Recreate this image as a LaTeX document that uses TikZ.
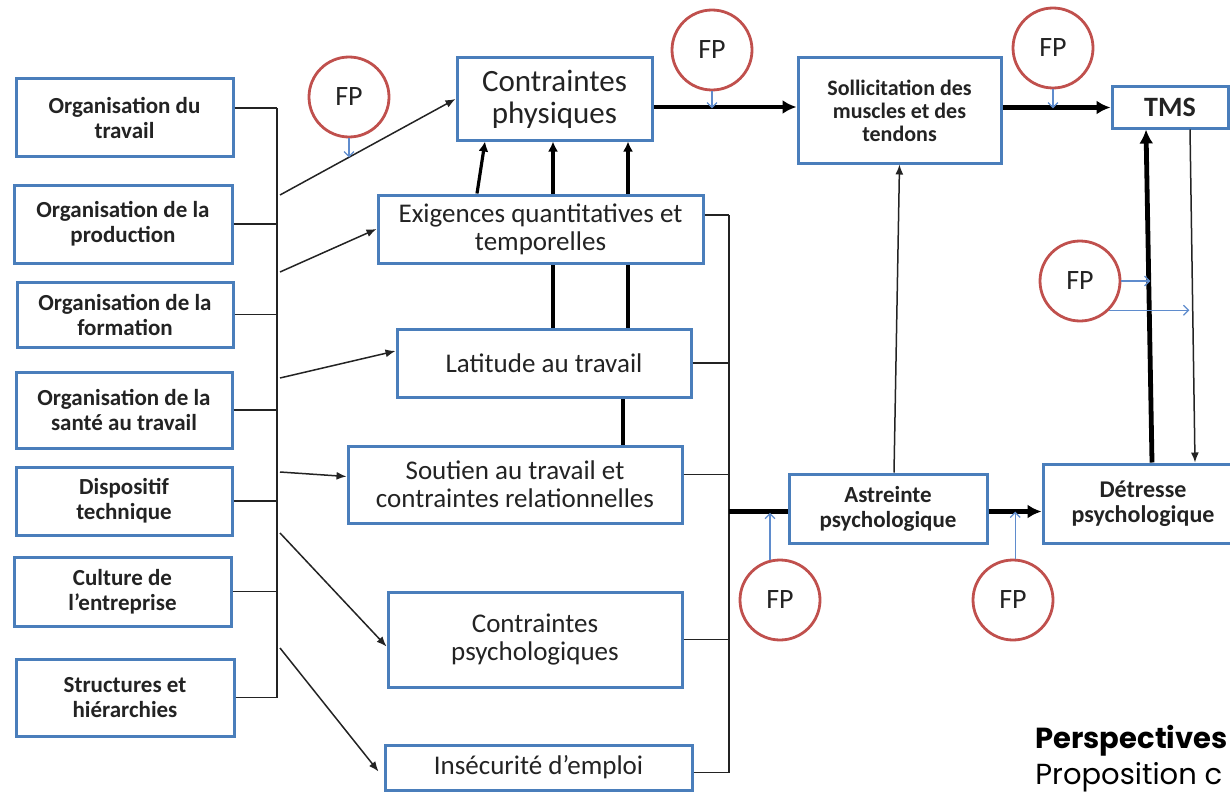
\documentclass[tikz,border=0pt]{standalone}
\usepackage{fontspec}
\setmainfont{Carlito}
\newfontfamily\pfont{Poppins}
\usetikzlibrary{arrows.meta,calc}
\definecolor{boxblue}{RGB}{74,126,187}
\definecolor{fpred}{RGB}{192,80,77}
\definecolor{fpblue}{RGB}{95,140,205}
\definecolor{ink}{RGB}{35,35,35}
\begin{document}
\begin{tikzpicture}[x=0.5pt,y=-0.5pt,
  box/.style={draw=boxblue, line width=1.5pt, fill=white, inner sep=0pt, align=center, text=ink},
  sz/.style 2 args={minimum width=#1pt, minimum height=#2pt},
  leftbox/.style={box, font=\fontsize{11.5}{12.5}\selectfont\bfseries},
  midbox/.style={box, font=\fontsize{13.5}{14}\selectfont},
  fp/.style={circle, draw=fpred, line width=1.4pt, minimum size=40pt, inner sep=0pt, font=\fontsize{14}{14}\selectfont, text=ink},
  conn/.style={draw=ink, line width=0.75pt},
  arr/.style={conn, -{Latex[length=5pt,width=4pt]}},
  thickln/.style={draw=black, line width=2.4pt},
  thickarr/.style={thickln, -{Latex[length=7pt,width=7pt]}},
  vthick/.style={draw=black, line width=1.6pt},
  vthickarr/.style={vthick, -{Latex[length=5pt,width=5pt]}},
  fparr/.style={draw=fpblue, line width=0.6pt, -{Straight Barb[length=2.5pt,width=5pt]}},
]
\useasboundingbox (0,0) rectangle (1230,792);
\clip (0,0) rectangle (1230,792);

% left column
\node[leftbox, sz={108.5}{38.5}] (o1) at (124.5,117.5) {Organisation du\\travail};
\node[leftbox, sz={109}{39}]     (o2) at (123,224)     {Organisation de la\\production};
\node[leftbox, sz={108}{32.5}]   (o3) at (125,314.5)   {Organisation de la\\formation};
\node[leftbox, sz={108}{38}]     (o4) at (124,410)     {Organisation de la\\santé au travail};
\node[leftbox, sz={108}{34}]     (o5) at (124,501)     {Dispositif\\technique};
\node[leftbox, sz={108.5}{34.5}] (o6) at (122.5,591.5) {Culture de\\l’entreprise};
\node[leftbox, sz={109}{38.5}]   (o7) at (125,697.5)   {Structures et\\hiérarchies};

% middle column
\node[box, font=\fontsize{15.5}{16}\selectfont, sz={97.5}{41}] (cp) at (554.5,99) {Contraintes\\physiques};
\node[midbox, sz={162.5}{34}]  (ex)  at (540.5,229)   {Exigences quantitatives et\\temporelles};
\node[midbox, sz={147}{34}]    (lat) at (544,363)     {Latitude au travail};
\node[midbox, sz={167}{38.5}]  (sou) at (515,484.5)   {Soutien au travail et\\contraintes relationnelles};
\node[midbox, sz={147}{47.5}]  (cps) at (535,639.5)   {Contraintes\\psychologiques};
\node[midbox, sz={153.5}{22.5}] (ins) at (538.5,767.5) {Insécurité d’emploi};

% right part
\node[box, font=\fontsize{11}{11.5}\selectfont\bfseries, sz={101.5}{52.5}] (sol) at (899.5,110.5) {Sollicitation des\\muscles et des\\tendons};
\node[box, font=\fontsize{14}{14}\selectfont\bfseries, sz={58}{20.5}] (tms) at (1170,107.5) {TMS};
\node[box, font=\fontsize{11.5}{12.5}\selectfont\bfseries, sz={99}{34.5}] (ast) at (888,508.5) {Astreinte\\psychologique};
\node[box, font=\fontsize{12}{12.5}\selectfont\bfseries, sz={100}{39.5}] (det) at (1143,503.5) {Détresse\\psychologique};

% FP circles
\node[fp] (fp1) at (349,97) {FP};
\node[fp] (fp2) at (712,50) {FP};
\node[fp] (fp3) at (1053,48) {FP};
\node[fp] (fp4) at (780,600) {FP};
\node[fp] (fp5) at (1013,600) {FP};
\node[fp] (fp6) at (1080,281) {FP};

% left bus
\coordinate (lb1) at (277,108);
\coordinate (lb7) at (277,698);
\draw[conn] (lb1) -- (lb7);
\draw[conn] (o1.east |- lb1) -- (lb1);
\draw[conn] (o2.east) -- (o2.east -| lb1);
\draw[conn] (o3.east) -- (o3.east -| lb1);
\draw[conn] (o4.east) -- (o4.east -| lb1);
\draw[conn] (o5.east) -- (o5.east -| lb1);
\draw[conn] (o6.east) -- (o6.east -| lb1);
\draw[conn] (o7.east) -- (o7.east -| lb1);

% arrows from the left bus
\coordinate (s1) at (280,195);
\coordinate (s2) at (280,272);
\coordinate (s3) at (280,378);
\coordinate (s4) at (280,472);
\coordinate (s5) at (280,533);
\coordinate (s6) at (280,648);
\draw[arr] (s1) -- (cp.west);
\draw[arr] (s2) -- (ex.west);
\draw[arr] (s3) -- ($(lat.west)+(0,-12)$);
\draw[arr] (s4) -- ($(sou.west)+(0,-8)$);
\draw[arr] (s5) -- ($(cps.west)+(0,7)$);
\draw[arr] (s6) -- ($(ins.west)+(-5,4)$);

% exigences -> contraintes physiques
\draw[vthickarr] ($(ex.north)+(-63.5,0)$) -- ($(cp.south)+(-69.5,0)$);
\draw[vthickarr] ($(ex.north)+(12.5,0)$) -- ($(cp.south)+(-1.5,0)$);
\draw[vthickarr] ($(ex.north)+(87.5,0)$) -- ($(cp.south)+(73.5,0)$);
\draw[vthick] ($(lat.north)+(9,0)$) -- ($(ex.south)+(12.5,0)$);
\draw[vthick] ($(lat.north)+(84,0)$) -- ($(ex.south)+(87.5,0)$);
\draw[vthick] ($(sou.north)+(108,0)$) -- ($(lat.south)+(79,0)$);

% right bus
\coordinate (rb1) at (729,215);
\coordinate (rb2) at (729,773);
\draw[conn] (rb1) -- (rb2);
\draw[conn] ($(ex.east)+(0,-14)$) -- (rb1);
\draw[conn] (lat.east) -- (lat.east -| rb1);
\draw[conn] ($(sou.east)+(0,-10)$) -- ($(sou.east -| rb1)+(0,-10)$);
\draw[conn] (cps.east) -- (cps.east -| rb1);
\draw[conn] ($(ins.east)+(0,5)$) -- ($(ins.east -| rb1)+(0,5)$);

% main chain
\draw[thickln] ($(ast.west -| rb1)+(0,3)$) -- ($(ast.west)+(0,3)$);
\draw[thickarr] ($(ast.east)+(0,3)$) -- ($(ast.east -| det.west)+(0,3)$);
\draw[arr] ($(ast.north)+(6,0)$) -- (sol.south);
\draw[thickarr] ($(cp.east)+(0,8)$) -- ($(cp.east -| sol.west)+(0,8)$);
\draw[thickarr] (sol.east |- tms.west) -- (tms.west);
\draw[thickarr] ($(det.north)+(9,0)$) -- ($(tms.south)+(-24,0)$);
\draw[arr] ($(tms.south)+(20,0)$) -- ($(det.north)+(52,0)$);

% FP arrows
\draw[fparr] (fp1.south) -- ++(0,19);
\draw[fparr] (fp2.south) -- ++(0,17);
\draw[fparr] (fp3.south) -- ++(0,19);
\draw[fparr] (fp4.104) -- ++(0,-47);
\draw[fparr] (fp5.87) -- ++(0,-47);
\draw[fparr] (fp6.east) -- ++(29,0);
\draw[fparr] (fp6.-45) -- ++(80,0);

% caption fragment
\node[anchor=base west, inner sep=0pt, font=\pfont\bfseries\fontsize{14.5}{15}\selectfont] (persp) at (1035,748) {Perspectives};
\node[anchor=base west, inner sep=0pt, font=\pfont\fontsize{14.5}{15}\selectfont] (prop) at (1035,784) {Proposition c};
\end{tikzpicture}
\end{document}
